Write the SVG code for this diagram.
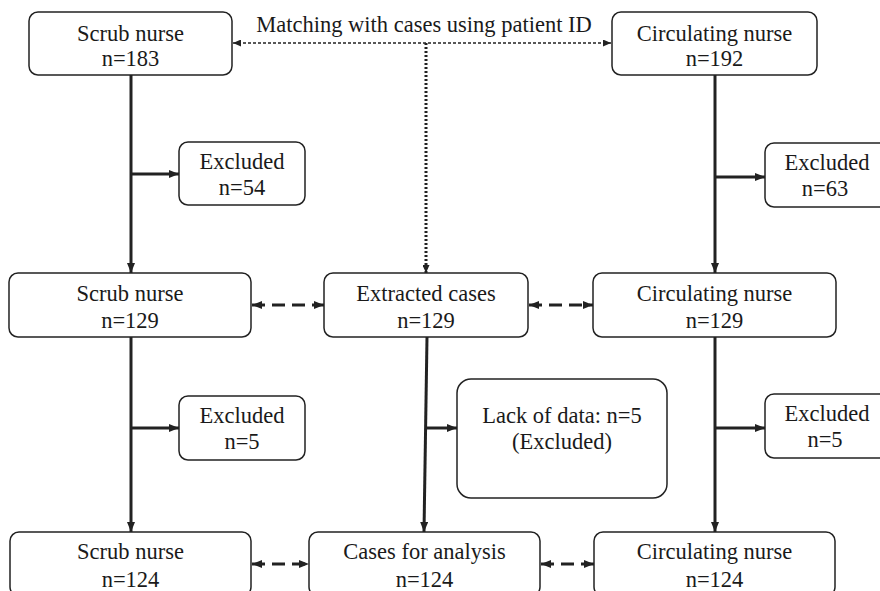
<svg xmlns="http://www.w3.org/2000/svg" width="880" height="591" viewBox="0 0 880 591">
<style>
.box{fill:#fff;stroke:#222;stroke-width:1.5}
text{font-family:'Liberation Serif','Tinos','Noto Serif','DejaVu Serif','FreeSerif','Times New Roman',Times,serif;font-size:22.5px;fill:#1a1a1a;text-anchor:middle}
.solid{stroke:#222;stroke-width:3;fill:none}
.dash{stroke:#222;stroke-width:3;fill:none;stroke-dasharray:13 7}
.dotv{stroke:#222;stroke-width:3;fill:none;stroke-dasharray:2 2}
.doth{stroke:#222;stroke-width:1.3;fill:none;stroke-dasharray:3 2}
</style>
<defs>
<marker id="ah" viewBox="0 0 10 8" refX="10" refY="4" markerWidth="10" markerHeight="8" markerUnits="userSpaceOnUse" orient="auto-start-reverse"><path d="M0,0 L10,4 L0,8 z" fill="#222"/></marker>
<marker id="ahs" viewBox="0 0 8 7" refX="8" refY="3.5" markerWidth="8" markerHeight="7" markerUnits="userSpaceOnUse" orient="auto-start-reverse"><path d="M0,0 L8,3.5 L0,7 z" fill="#222"/></marker>
</defs>
<g id="connectors">
<line class="doth" x1="233" y1="43" x2="611" y2="43" marker-start="url(#ahs)" marker-end="url(#ahs)"/>
<line class="dotv" x1="426" y1="43" x2="426" y2="273" marker-end="url(#ahs)"/>
<line class="solid" x1="131" y1="75" x2="131" y2="273" marker-end="url(#ah)"/>
<line class="solid" x1="131" y1="174" x2="179" y2="174" marker-end="url(#ah)"/>
<line class="solid" x1="715" y1="75" x2="715" y2="273" marker-end="url(#ah)"/>
<line class="solid" x1="715" y1="177" x2="765" y2="177" marker-end="url(#ah)"/>
<line class="dash" x1="252" y1="305" x2="324" y2="305" marker-start="url(#ah)" marker-end="url(#ah)"/>
<line class="dash" x1="529" y1="305" x2="593" y2="305" marker-start="url(#ah)" marker-end="url(#ah)"/>
<line class="solid" x1="131" y1="337" x2="131" y2="532" marker-end="url(#ah)"/>
<line class="solid" x1="131" y1="428" x2="179" y2="428" marker-end="url(#ah)"/>
<line class="solid" x1="427" y1="337" x2="424" y2="532" marker-end="url(#ah)"/>
<line class="solid" x1="426" y1="428" x2="457" y2="428" marker-end="url(#ah)"/>
<line class="solid" x1="715" y1="337" x2="715" y2="532" marker-end="url(#ah)"/>
<line class="solid" x1="715" y1="428" x2="765" y2="428" marker-end="url(#ah)"/>
<line class="dash" x1="252" y1="564" x2="309" y2="564" marker-start="url(#ah)" marker-end="url(#ah)"/>
<line class="dash" x1="541" y1="564" x2="594" y2="564" marker-start="url(#ah)" marker-end="url(#ah)"/>
</g>
<text x="424" y="32">Matching with cases using patient ID</text>
<g id="scrub183"><rect class="box" x="29" y="12" width="203" height="63" rx="9"/><text x="130.5" y="41">Scrub nurse</text><text x="130.5" y="66">n=183</text></g>
<g id="circ192"><rect class="box" x="612" y="12" width="205" height="63" rx="9"/><text x="714.5" y="41">Circulating nurse</text><text x="714.5" y="66">n=192</text></g>
<g id="excl54"><rect class="box" x="179" y="142" width="126" height="63" rx="9"/><text x="242" y="169">Excluded</text><text x="242" y="195">n=54</text></g>
<g id="excl63"><rect class="box" x="765" y="143" width="124" height="64" rx="9"/><text x="827" y="170">Excluded</text><text x="825" y="196">n=63</text></g>
<g id="scrub129"><rect class="box" x="9" y="273" width="242" height="64" rx="9"/><text x="130" y="301">Scrub nurse</text><text x="130" y="328">n=129</text></g>
<g id="extracted"><rect class="box" x="324" y="273" width="204" height="64" rx="9"/><text x="426" y="301">Extracted cases</text><text x="426" y="328">n=129</text></g>
<g id="circ129"><rect class="box" x="593" y="273" width="243" height="64" rx="9"/><text x="714.5" y="301">Circulating nurse</text><text x="714.5" y="328">n=129</text></g>
<g id="excl5a"><rect class="box" x="179" y="396" width="126" height="64" rx="9"/><text x="242" y="423">Excluded</text><text x="242" y="449">n=5</text></g>
<g id="lack"><rect class="box" x="457" y="379" width="210" height="119" rx="14"/><text x="562" y="423">Lack of data: n=5</text><text x="562" y="449">(Excluded)</text></g>
<g id="excl5b"><rect class="box" x="765" y="394" width="124" height="64" rx="9"/><text x="827" y="421">Excluded</text><text x="825" y="447">n=5</text></g>
<g id="scrub124"><rect class="box" x="10" y="532" width="241" height="64" rx="9"/><text x="130.5" y="559">Scrub nurse</text><text x="130.5" y="587">n=124</text></g>
<g id="cases124"><rect class="box" x="309" y="532" width="231" height="64" rx="9"/><text x="424.5" y="559">Cases for analysis</text><text x="424.5" y="587">n=124</text></g>
<g id="circ124"><rect class="box" x="594" y="532" width="241" height="64" rx="9"/><text x="714.5" y="559">Circulating nurse</text><text x="714.5" y="587">n=124</text></g>
</svg>
